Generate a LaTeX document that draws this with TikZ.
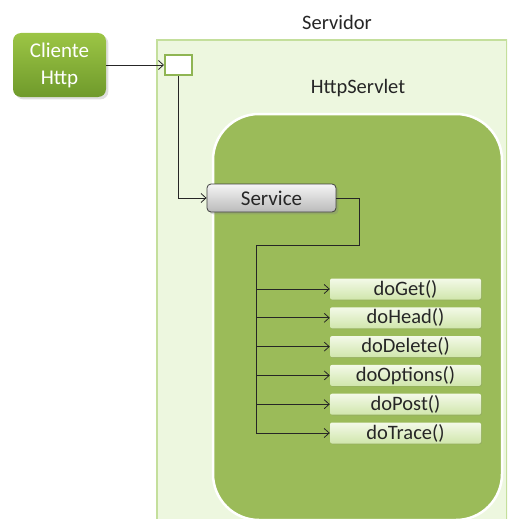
\documentclass[tikz,border=0pt]{standalone}
\usepackage{fontspec}
\setmainfont{Carlito}
\usetikzlibrary{shadows,arrows.meta}

\definecolor{fondoServidor}{HTML}{EDF7DF}
\definecolor{bordeServidor}{HTML}{C4DF9C}
\definecolor{verdeServlet}{HTML}{9BBB59}
\definecolor{verdeAlto}{HTML}{9CC545}
\definecolor{verdeBajo}{HTML}{6F9A2B}
\definecolor{bordePorta}{HTML}{8FB553}
\definecolor{metodoAlto}{HTML}{F3F9E8}
\definecolor{metodoBajo}{HTML}{D0E6AC}
\definecolor{texto}{HTML}{262626}

\begin{document}
\begin{tikzpicture}[
        x=1pt, y=-1pt,
        >={Straight Barb[length=5pt,width=9pt]},
        every node/.style={font=\fontsize{20.5}{24}\selectfont},
        titulo/.style={text=texto},
        cliente/.style={rounded corners=8pt, top color=verdeAlto, bottom color=verdeBajo,
            text=white, align=center, minimum width=93pt, minimum height=64pt,
            font=\fontsize{21}{27}\selectfont, drop shadow={opacity=0.25}},
        porta/.style={draw=bordePorta, line width=2pt, fill=white,
            minimum width=27pt, minimum height=20pt, inner sep=0pt},
        servicebox/.style={draw=black!75, line width=0.8pt, rounded corners=4pt,
            top color=black!4, bottom color=black!27, minimum width=129pt,
            minimum height=28pt, inner sep=0pt, text=texto,
            font=\fontsize{21}{25}\selectfont, drop shadow={opacity=0.3}},
        metodo/.style={rounded corners=2pt, top color=metodoAlto, bottom color=metodoBajo,
            minimum width=151pt, minimum height=21pt, inner sep=0pt, text=texto,
            drop shadow={opacity=0.2, shadow xshift=0.8pt, shadow yshift=-0.8pt}},
        linea/.style={line width=0.8pt, black!85},
        flecha/.style={linea, ->}
    ]
    \clip (0,0) rectangle (507,519);

    % --- Servidor ---
    \node[draw=bordeServidor, line width=1.5pt, fill=fondoServidor,
        minimum width=350pt, minimum height=482pt] (servidor) at (332,281) {};
    \node[titulo] (tServidor) at (337,22) {Servidor};
    \node[porta] (porta) at (178.5,65) {};

    % --- HttpServlet ---
    \node[titulo] (tServlet) at (358,88) {HttpServlet};
    \node[draw=white, line width=2.5pt, fill=verdeServlet, rounded corners=46pt,
        minimum width=289pt, minimum height=406pt] (servlet) at (357.5,317) {};

    % --- Nodes ---
    \node[cliente] (cliente) at (59.5,65) {Cliente\\Http};
    \node[servicebox] (service) at (271.5,198) {Service};

    \foreach \nome [count=\i from 0] in {doGet,doHead,doDelete,doOptions,doPost,doTrace}
        \node[metodo] (m\i) at (405.5,289+28.8*\i) {\nome()};

    % --- Connectors ---
    \coordinate (codo) at (359,245);
    \coordinate (tronco) at (256,245);

    \draw[flecha] (cliente) -- (porta);
    \draw[flecha] (porta.south) |- (service.west);
    \draw[linea] (service.east) -| (codo) -- (tronco) -- (tronco |- m5.west);
    \foreach \i in {0,...,5}
        \draw[flecha] (tronco |- m\i.west) -- (m\i.west);

\end{tikzpicture}
\end{document}
